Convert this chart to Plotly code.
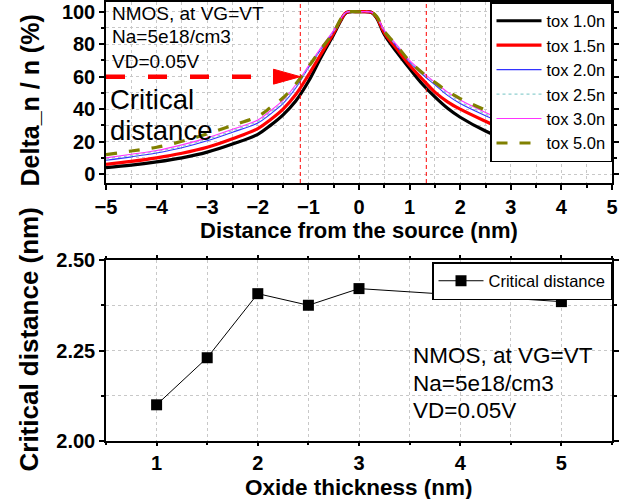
import plotly.graph_objects as go

# ---------------- data ----------------
dist_nm = [-5, -4.5, -4, -3.5, -3, -2.5, -2, -1.75, -1.5, -1.25, -1, -0.75, -0.5, -0.35, -0.25, 0,
           0.25, 0.35, 0.5, 0.75, 1, 1.25, 1.5, 1.75, 2, 2.5, 3, 3.5, 4, 4.5, 5]

tox_10 = [4, 5.5, 7.5, 10, 13.5, 18.5, 24.5, 30, 36.5, 45, 57, 72, 86, 95, 99.5, 100,
          99.5, 96, 86, 75, 65, 55.5, 47.5, 40.5, 35, 26.5, 20, 16.5, 14, 11.8, 10]
tox_15 = [6, 7.8, 10, 12.8, 16.5, 21.8, 28, 33.5, 40, 49, 61, 74, 87, 95.5, 99.6, 100,
          99.6, 96.5, 87, 77, 67, 58.5, 50.5, 44.5, 40, 32.5, 25.5, 20.8, 17.5, 14.8, 12.7]
tox_20 = [8.5, 10.6, 13, 16.2, 20.5, 25.8, 31.5, 37, 43.5, 53, 65.5, 77, 88, 96, 99.7, 100,
          99.7, 97, 88, 78.5, 69, 61.5, 55, 48.5, 43.5, 36, 29.5, 24.5, 21, 18.5, 16.5]
tox_25 = [9.3, 11.4, 13.8, 17.1, 21.4, 26.7, 32.5, 38, 44.5, 54, 66, 77.5, 88, 96, 99.7, 100,
          99.7, 97, 88, 79, 69.5, 62.3, 55.8, 49.5, 44.5, 37, 30.5, 25.5, 22, 19.5, 17.2]
tox_30 = [10, 12.2, 14.5, 18, 22.3, 27.6, 33.3, 39, 45.5, 55, 66.5, 78, 88.5, 96.2, 99.7, 100,
          99.7, 97.2, 88.5, 79.5, 70, 63, 56.5, 50.5, 45.6, 38, 31.3, 26.3, 22.8, 20.2, 18]
tox_50 = [12, 14.2, 16.5, 20.2, 24.8, 30, 35.5, 41, 47, 55.5, 66, 77, 87.5, 96, 99.6, 100,
          99.6, 97, 88, 79, 69.5, 62.5, 56.5, 51, 46.5, 39.4, 32.5, 27.5, 24, 21, 19]

series_names = ["tox 1.0n", "tox 1.5n", "tox 2.0n", "tox 2.5n", "tox 3.0n", "tox 5.0n"]
series_values = [tox_10, tox_15, tox_20, tox_25, tox_30, tox_50]

crit_level = 60
crit_left = -1.16
crit_right = 1.33

oxide_nm = [1, 1.5, 2, 2.5, 3, 5]
crit_dist_nm = [2.10, 2.23, 2.407, 2.375, 2.421, 2.385]

info_lines = ["NMOS, at VG=VT", "Na=5e18/cm3", "VD=0.05V"]
crit_label_lines = ["Critical", "distance"]

top_xticks = [-5, -4, -3, -2, -1, 0, 1, 2, 3, 4, 5]
top_yticks = [0, 20, 40, 60, 80, 100]
bot_xticks = [1, 2, 3, 4, 5]
bot_yticks = [2.00, 2.25, 2.50]

# ---------------- styles ----------------
FONT = "Liberation Sans, Arial, sans-serif"
styles = [
    dict(color="#000000", width=3.2, dash="solid"),
    dict(color="#ff0000", width=3.2, dash="solid"),
    dict(color="#3333ff", width=1.1, dash="solid"),
    dict(color="#8fd0d0", width=1.3, dash="dot"),
    dict(color="#ff33ff", width=1.1, dash="solid"),
    dict(color="#808000", width=3.2, dash="11px,12px"),
]

fig = go.Figure()

for name, vals, st in zip(series_names, series_values, styles):
    fig.add_trace(go.Scatter(
        x=dist_nm, y=vals, name=name, mode="lines",
        line=dict(color=st["color"], width=st["width"], dash=st["dash"],
                  shape="spline", smoothing=1.0),
        xaxis="x", yaxis="y", legend="legend",
    ))

# critical-distance arrow (dashed thick red)
fig.add_trace(go.Scatter(
    x=[dist_nm[0], crit_left - 0.5], y=[crit_level, crit_level], mode="lines",
    line=dict(color="#ff0000", width=4.5, dash="19px,23px"),
    showlegend=False, hoverinfo="skip", xaxis="x", yaxis="y",
))

fig.add_trace(go.Scatter(
    x=oxide_nm, y=crit_dist_nm, name="Critical distance", mode="lines+markers",
    line=dict(color="black", width=1),
    marker=dict(symbol="square", size=11, color="black"),
    xaxis="x2", yaxis="y2", legend="legend2",
))

shapes = []
for xv in (crit_left, crit_right):
    shapes.append(dict(type="line", xref="x", yref="y domain", x0=xv, x1=xv, y0=0, y1=1,
                       line=dict(color="#ff0000", width=1, dash="4px,3px"), layer="above"))
# arrow head
shapes.append(dict(type="path", xref="x", yref="y",
                   path=f"M {crit_left - 0.53},{crit_level + 4.6} L {crit_left},{crit_level} "
                        f"L {crit_left - 0.53},{crit_level - 4.6} Z",
                   fillcolor="#ff0000", line=dict(color="#ff0000", width=1)))

annotations = []
# top info
for i, t in enumerate(info_lines):
    annotations.append(dict(text=t, xref="x domain", yref="y domain", x=0.008,
                            y=[0.939, 0.807, 0.674][i], xanchor="left", yanchor="middle",
                            showarrow=False, font=dict(family=FONT, size=19, color="black")))
for i, t in enumerate(crit_label_lines):
    annotations.append(dict(text=t, xref="x domain", yref="y domain", x=0.004,
                            y=[0.459, 0.288][i], xanchor="left", yanchor="middle",
                            showarrow=False, font=dict(family=FONT, size=27.5, color="black")))
# bottom info
for i, t in enumerate(info_lines):
    annotations.append(dict(text=t, xref="x2 domain", yref="y2 domain", x=0.603,
                            y=[0.475, 0.318, 0.17][i], xanchor="left", yanchor="middle",
                            showarrow=False, font=dict(family=FONT, size=22.5, color="black")))
# axis titles
annotations += [
    dict(text="Distance from the source (nm)", xref="x domain", yref="y domain",
         x=0.5, y=0, yshift=-48, xanchor="center", yanchor="middle", showarrow=False,
         font=dict(family=FONT, size=22, color="black", weight="bold")),
    dict(text="Delta_n / n (%)", xref="x domain", yref="y domain", x=0, xshift=-76,
         y=0.5, yshift=-8, textangle=-90, xanchor="center", yanchor="middle",
         showarrow=False, font=dict(family=FONT, size=25, color="black", weight="bold")),
    dict(text="Oxide thickness (nm)", xref="x2 domain", yref="y2 domain",
         x=0.5, y=0, yshift=-46, xanchor="center", yanchor="middle", showarrow=False,
         font=dict(family=FONT, size=22.5, color="black", weight="bold")),
    dict(text="Critical distance (nm)", xref="x2 domain", yref="y2 domain", x=0, xshift=-77,
         y=0.5, yshift=11, textangle=-90, xanchor="center", yanchor="middle",
         showarrow=False, font=dict(family=FONT, size=26, color="black", weight="bold")),
]

TICKFONT = dict(family=FONT, size=20, color="black", weight="bold")
GRID = "#c8c8c8"


def axis(**kw):
    base = dict(showline=True, linecolor="black", linewidth=1.5, mirror="ticks",
                ticks="outside", ticklen=5, tickwidth=1.5, tickcolor="black",
                tickfont=TICKFONT, showgrid=True, gridcolor=GRID, griddash="dot",
                gridwidth=1, zeroline=False, automargin=False)
    base.update(kw)
    return base


fig.update_layout(
    width=632, height=499,
    margin=dict(l=106, r=20, t=2, b=58, autoexpand=False),
    paper_bgcolor="white", plot_bgcolor="white",
    font=dict(family=FONT, color="black"),
    xaxis=axis(domain=[0, 1], range=[-5, 5], tickvals=top_xticks, anchor="y",
               minor=dict(dtick=0.5, tick0=0, ticks="outside", ticklen=3, tickcolor="black",
                          showgrid=True, gridcolor=GRID, griddash="dot")),
    yaxis=axis(domain=[0.5877, 1], range=[-5.5, 106], tickvals=top_yticks, anchor="x",
               minor=dict(dtick=10, tick0=0, ticks="outside", ticklen=3, tickcolor="black",
                          showgrid=True, gridcolor=GRID, griddash="dot")),
    xaxis2=axis(domain=[0, 1], range=[0.5, 5.5], tickvals=bot_xticks, anchor="y2",
                ticklen=3,
                minor=dict(dtick=0.5, tick0=0, ticks="outside", ticklen=2.5, tickcolor="black",
                           showgrid=True, gridcolor=GRID, griddash="dot")),
    yaxis2=axis(domain=[0, 0.4123], range=[2.0, 2.5], tickvals=bot_yticks, anchor="x2",
                tickformat=".2f",
                minor=dict(dtick=0.125, tick0=2.0, ticks="outside", ticklen=3,
                           tickcolor="black", showgrid=True, gridcolor=GRID, griddash="dot")),
    legend=dict(x=1, xanchor="right", y=1, yanchor="top", bgcolor="white",
                bordercolor="black", borderwidth=1.5, font=dict(family=FONT, size=16.5),
                itemwidth=45, tracegroupgap=0),
    legend2=dict(x=1, xanchor="right", y=0.4077, yanchor="top", bgcolor="white",
                 bordercolor="black", borderwidth=1.5, font=dict(family=FONT, size=16.5),
                 itemwidth=45),
    shapes=shapes,
    annotations=annotations,
    showlegend=True,
)

fig.write_html("out.html", config={"displayModeBar": False},
               post_script="document.body.style.margin='0px';")
